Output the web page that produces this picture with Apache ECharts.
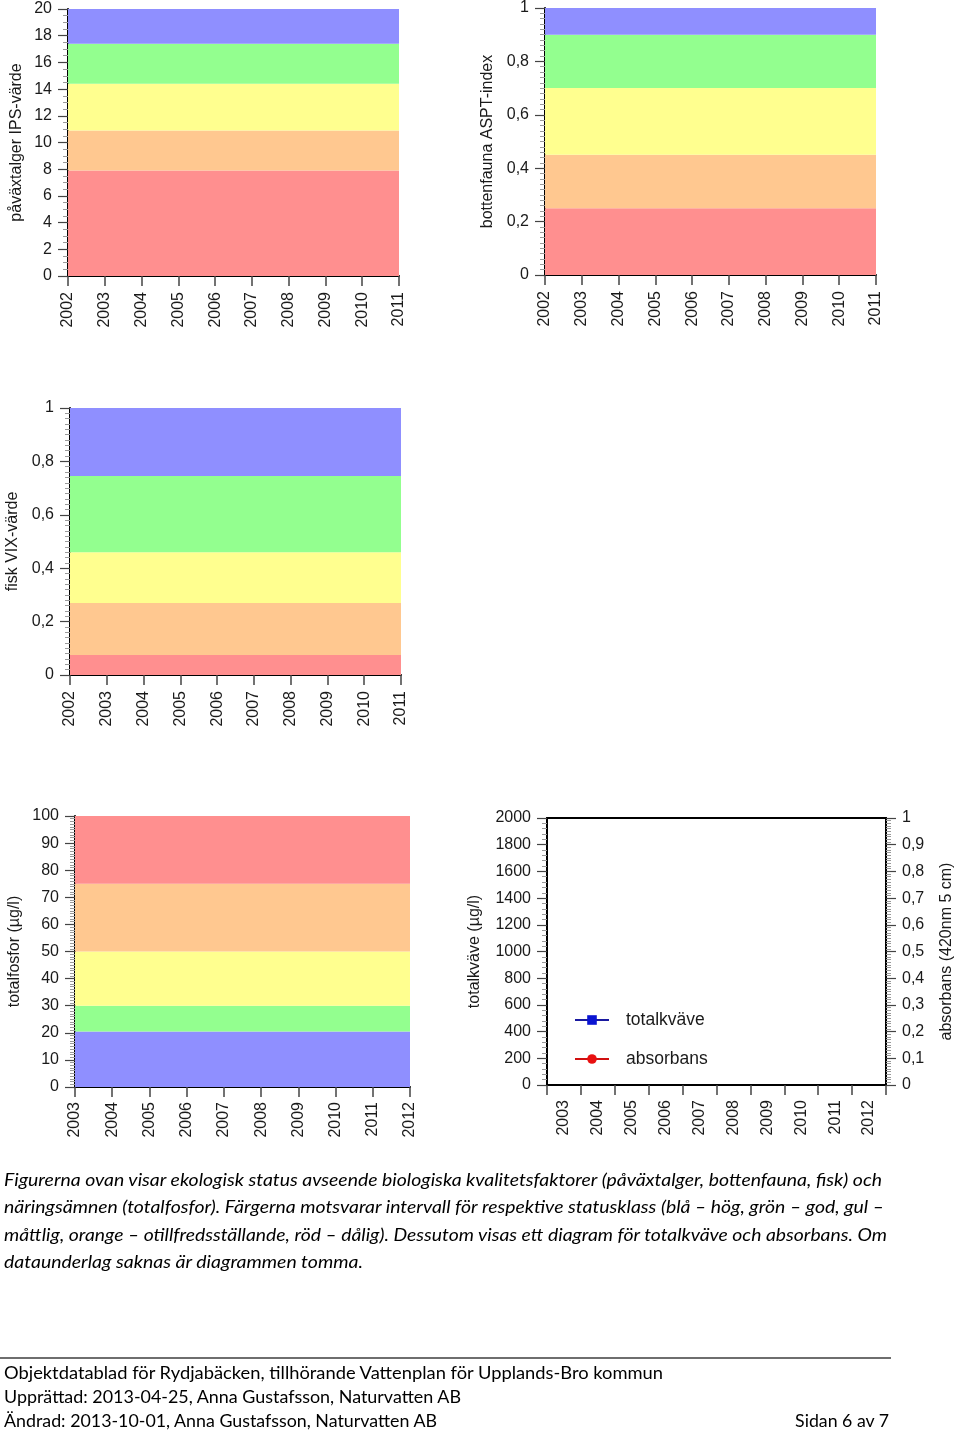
<!DOCTYPE html>
<html>
<head>
<meta charset="utf-8">
<script src="https://cdn.jsdelivr.net/npm/echarts@6/dist/echarts.min.js"></script>
<style>
html,body{margin:0;padding:0;background:#fff;}
#chart{position:absolute;left:0;top:0;width:960px;height:1433px;}
.t{position:absolute;white-space:nowrap;line-height:20px;height:20px;transform-origin:0 50%;color:#000;}
.cap{font-family:Lato,"Open Sans",sans-serif;font-style:italic;font-size:17px;}
.foot{font-family:Lato,"Open Sans",sans-serif;font-size:17px;}
#rule{position:absolute;left:0;top:1357px;width:891px;height:2px;background:#6e6e6e;}
</style>
</head>
<body>
<div id="chart"></div>
<div id="rule"></div>
<script>
// ---------- data ----------
const yearsA = ['2002','2003','2004','2005','2006','2007','2008','2009','2010','2011'];
const yearsB = ['2003','2004','2005','2006','2007','2008','2009','2010','2011','2012'];

// class limits (bottom -> top) for each status diagram
const ipsLimits  = [0, 7.9, 10.9, 14.4, 17.4, 20];
const asptLimits = [0, 0.25, 0.45, 0.7, 0.9, 1];
const vixLimits  = [0, 0.075, 0.27, 0.46, 0.745, 1];
const tpLimits   = [0, 20.5, 30, 50, 75, 100];

// class names for bands (bottom -> top)
const ipsClasses  = ['dålig','otillfredsställande','måttlig','god','hög'];
const asptClasses = ['dålig','otillfredsställande','måttlig','god','hög'];
const vixClasses  = ['dålig','otillfredsställande','måttlig','god','hög'];
const tpClasses   = ['hög','god','måttlig','otillfredsställande','dålig'];

// measured series (no data available -> empty)
const totalkvave = [];
const absorbans  = [];

const captionLines = [
  'Figurerna ovan visar ekologisk status avseende biologiska kvalitetsfaktorer (påväxtalger, bottenfauna, fisk) och',
  'näringsämnen (totalfosfor). Färgerna motsvarar intervall för respektive statusklass (blå – hög, grön – god, gul –',
  'måttlig, orange – otillfredsställande, röd – dålig). Dessutom visas ett diagram för totalkväve och absorbans. Om',
  'dataunderlag saknas är diagrammen tomma.'
];
const footerLines = [
  'Objektdatablad för Rydjabäcken, tillhörande Vattenplan för Upplands-Bro kommun',
  'Upprättad: 2013-04-25, Anna Gustafsson, Naturvatten AB',
  'Ändrad: 2013-10-01, Anna Gustafsson, Naturvatten AB'
];
const pageLabel = 'Sidan 6 av 7';

// ---------- styles ----------
const classColor = {'hög':'#8f8fff','god':'#93ff8f','måttlig':'#ffff8f','otillfredsställande':'#ffc890','dålig':'#ff8f8f'};
const FONT = '"Liberation Sans", Arial, sans-serif';
const lbl = {fontFamily: FONT, fontSize: 16, color: '#1a1a1a'};
const comma = v => String(+v.toFixed(3)).replace('.', ',');

function bands(limits, classes){
  const out = [];
  for (let i = 0; i < classes.length; i++) {
    out.push([{yAxis: limits[i], itemStyle: {color: classColor[classes[i]], opacity: 1}}, {yAxis: limits[i+1]}]);
  }
  return out;
}

const grids = [
  {left: 68,  top: 9,   width: 331, height: 267},
  {left: 545, top: 7,   width: 331, height: 268},
  {left: 70,  top: 408, width: 331, height: 267},
  {left: 75,  top: 816, width: 335, height: 271},
  {left: 547, top: 818, width: 339, height: 267, show: true, borderColor: '#000', borderWidth: 2, backgroundColor: 'transparent'}
];

function xCat(gi, cats, gap, margin){
  return {
    type: 'category', gridIndex: gi, data: cats, boundaryGap: gap,
    axisLine: {show: true, lineStyle: {color: '#000', width: 2}},
    axisTick: {show: true, length: 10, interval: 0, lineStyle: {color: '#444', width: 1.5}},
    axisLabel: Object.assign({rotate: 90, margin: margin, interval: 0}, lbl),
    splitLine: {show: false}
  };
}
function yVal(gi, min, max, interval, name, nameGap, minorSplit, fmt, pos){
  return {
    type: 'value', gridIndex: gi, min: min, max: max, interval: interval, position: pos || 'left',
    name: name, nameLocation: 'middle', nameGap: nameGap,
    nameTextStyle: {fontFamily: FONT, fontSize: 16, color: '#1a1a1a'},
    axisLine: {show: true, lineStyle: {color: '#000', width: 2}},
    axisTick: {show: true, length: 10, lineStyle: {color: '#444', width: 1.2}},
    minorTick: {show: true, splitNumber: minorSplit, length: 5, lineStyle: {color: '#999', width: 1}},
    axisLabel: Object.assign({margin: 16, formatter: fmt}, lbl),
    splitLine: {show: false}, minorSplitLine: {show: false}
  };
}
function bandSeries(gi, limits, classes){
  return {
    type: 'line', xAxisIndex: gi, yAxisIndex: gi, data: [], silent: true,
    markArea: {silent: true, data: bands(limits, classes)}
  };
}

const option = {
  animation: false,
  grid: grids,
  xAxis: [
    xCat(0, yearsA, false, 16),
    xCat(1, yearsA, false, 16),
    xCat(2, yearsA, false, 16),
    xCat(3, yearsB, false, 15),
    xCat(4, yearsB, true, 15)
  ],
  yAxis: [
    yVal(0, 0, 20, 2, 'påväxtalger IPS-värde', 43, 4, v => String(v)),
    yVal(1, 0, 1, 0.2, 'bottenfauna ASPT-index', 49, 10, comma),
    yVal(2, 0, 1, 0.2, 'fisk VIX-värde', 49, 10, comma),
    yVal(3, 0, 100, 10, 'totalfosfor (µg/l)', 52, 10, v => String(v)),
    yVal(4, 0, 2000, 200, 'totalkväve (µg/l)', 64, 5, v => String(v)),
    yVal(4, 0, 1, 0.1, 'absorbans (420nm 5 cm)', 53, 10, comma, 'right')
  ],
  legend: {
    orient: 'vertical', left: 574, top: 1011, padding: 0, itemWidth: 34, itemHeight: 12, itemGap: 21,
    textStyle: {fontFamily: FONT, fontSize: 17.5, color: '#1a1a1a', padding: [0, 0, 0, 12]},
    data: ['totalkväve', 'absorbans']
  },
  series: [
    bandSeries(0, ipsLimits, ipsClasses),
    bandSeries(1, asptLimits, asptClasses),
    bandSeries(2, vixLimits, vixClasses),
    bandSeries(3, tpLimits, tpClasses),
    {name: 'totalkväve', type: 'line', xAxisIndex: 4, yAxisIndex: 4, data: totalkvave,
     symbol: 'rect', symbolSize: 10, itemStyle: {color: '#0a14d2'}, lineStyle: {color: '#1a1aa0', width: 2}},
    {name: 'absorbans', type: 'line', xAxisIndex: 4, yAxisIndex: 5, data: absorbans,
     symbol: 'circle', symbolSize: 11, itemStyle: {color: '#e81010'}, lineStyle: {color: '#d01010', width: 2}}
  ]
};
echarts.init(document.getElementById('chart'), null, {renderer: 'canvas'}).setOption(option);

// ---------- text ----------
function place(text, cls, left, cy, width, right){
  const d = document.createElement('div');
  d.className = 't ' + cls;
  d.textContent = text;
  d.style.top = (cy - 10) + 'px';
  d.style.left = left + 'px';
  document.body.appendChild(d);
  const w = d.getBoundingClientRect().width;
  const s = width / w;
  d.style.transform = 'scaleX(' + s + ')';
  if (right) { d.style.transformOrigin = '100% 50%'; d.style.left = (right - w) + 'px'; }
}
const capY = [1180, 1207, 1235, 1262];
const capW = [878, 880, 883, 359];
captionLines.forEach((t, i) => place(t, 'cap', 4, capY[i], capW[i]));
const footY = [1373, 1397, 1421];
const footW = [659, 457, 433];
footerLines.forEach((t, i) => place(t, 'foot', 4, footY[i], footW[i]));
place(pageLabel, 'foot', 0, 1421, 94, 889);
</script>
</body>
</html>
